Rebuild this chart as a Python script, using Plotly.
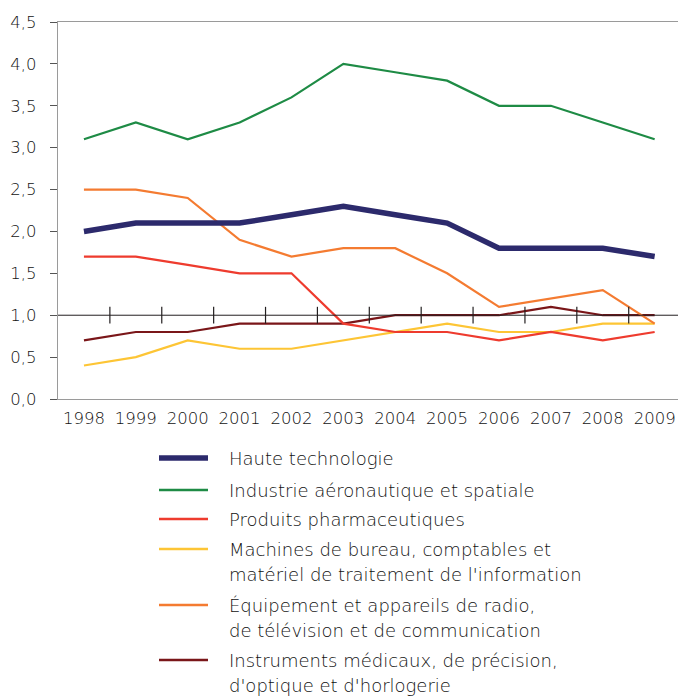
import plotly.graph_objects as go

years = list(range(1998, 2010))
haute = [2.0, 2.1, 2.1, 2.1, 2.2, 2.3, 2.2, 2.1, 1.8, 1.8, 1.8, 1.7]
aero = [3.1, 3.3, 3.1, 3.3, 3.6, 4.0, 3.9, 3.8, 3.5, 3.5, 3.3, 3.1]
pharma = [1.7, 1.7, 1.6, 1.5, 1.5, 0.9, 0.8, 0.8, 0.7, 0.8, 0.7, 0.8]
machines = [0.4, 0.5, 0.7, 0.6, 0.6, 0.7, 0.8, 0.9, 0.8, 0.8, 0.9, 0.9]
radio = [2.5, 2.5, 2.4, 1.9, 1.7, 1.8, 1.8, 1.5, 1.1, 1.2, 1.3, 0.9]
instr = [0.7, 0.8, 0.8, 0.9, 0.9, 0.9, 1.0, 1.0, 1.0, 1.1, 1.0, 1.0]

names = [
    "Haute technologie",
    "Industrie aéronautique et spatiale",
    "Produits pharmaceutiques",
    "Machines de bureau, comptables et\nmatériel de traitement de l'information",
    "Équipement et appareils de radio,\nde télévision et de communication",
    "Instruments médicaux, de précision,\nd'optique et d'horlogerie",
]
series = [haute, aero, pharma, machines, radio, instr]
colors = ["#2c2a6c", "#1e8b45", "#ee3b2e", "#fdc535", "#f47b31", "#7a1619"]
widths = [5.5, 2.2, 2.2, 2.2, 2.2, 2.2]
draw_order = [5, 3, 2, 4, 1, 0]

FONT = "DejaVu Sans"
TXT = "#111111"

FW, FH = 678, 696

fig = go.Figure()
for i in draw_order:
    fig.add_trace(go.Scatter(
        x=years, y=series[i], mode="lines", name=names[i].replace("\n", " "),
        line=dict(color=colors[i], width=widths[i]), showlegend=False,
    ))

# reference line at 1.0 with category-boundary ticks
fig.add_hline(y=1.0, line=dict(color="#231f20", width=1))
bounds = [y + 0.5 for y in years[:-1]]
fig.add_trace(go.Scatter(
    x=bounds, y=[1.0] * len(bounds), mode="markers", showlegend=False,
    hoverinfo="skip",
    marker=dict(symbol="line-ns", size=12, line=dict(color="#231f20", width=1.2)),
))

# pixel geometry of the plot area
plot_left, plot_top, plot_bot = 58, 22, 399
H = plot_bot - plot_top
W = FW - plot_left


def py(p):
    return (plot_bot - p) / H


def px(p):
    return (p - plot_left) / W


row_y = [458, 490, 519, 549, 605, 660]
line_gap = 25
for i, name in enumerate(names):
    yy = row_y[i]
    fig.add_shape(type="line", xref="paper", yref="paper",
                  x0=px(159), x1=px(208), y0=py(yy), y1=py(yy),
                  line=dict(color=colors[i], width=widths[i] if i == 0 else 2.5))
    for k, part in enumerate(name.split("\n")):
        fig.add_annotation(xref="paper", yref="paper", x=px(227), y=py(yy + k * line_gap),
                           xanchor="left", yanchor="middle", text=part, showarrow=False,
                           font=dict(family=FONT, size=18, color=TXT, weight=300))

fig.update_layout(
    width=FW, height=FH,
    margin=dict(l=plot_left, r=0, t=plot_top, b=FH - plot_bot),
    paper_bgcolor="white", plot_bgcolor="white",
    separators=", ",
    hovermode=False,
    font=dict(family=FONT, size=16.5, color=TXT, weight=300),
    xaxis=dict(range=[1997.5, 2009.45], tickmode="array", tickvals=years,
               ticktext=[str(y) for y in years], showgrid=False, zeroline=False,
               showline=True, mirror=True, linecolor="#9a9a9a", linewidth=1.2,
               ticks="", ticklabelstandoff=4, automargin=False,
               ticklabeloverflow="allow"),
    yaxis=dict(range=[0, 4.5], dtick=0.5, tickformat=".1f", showgrid=False,
               zeroline=False, showline=True, linecolor="#9a9a9a", linewidth=1.2,
               ticks="outside", ticklen=7, tickcolor="#555555", tickwidth=1,
               ticklabelstandoff=10, automargin=False),
)

fig.write_html(
    "out.html",
    config={"displayModeBar": False},
    post_script="document.body.style.margin='0';document.body.style.overflow='hidden';",
)
